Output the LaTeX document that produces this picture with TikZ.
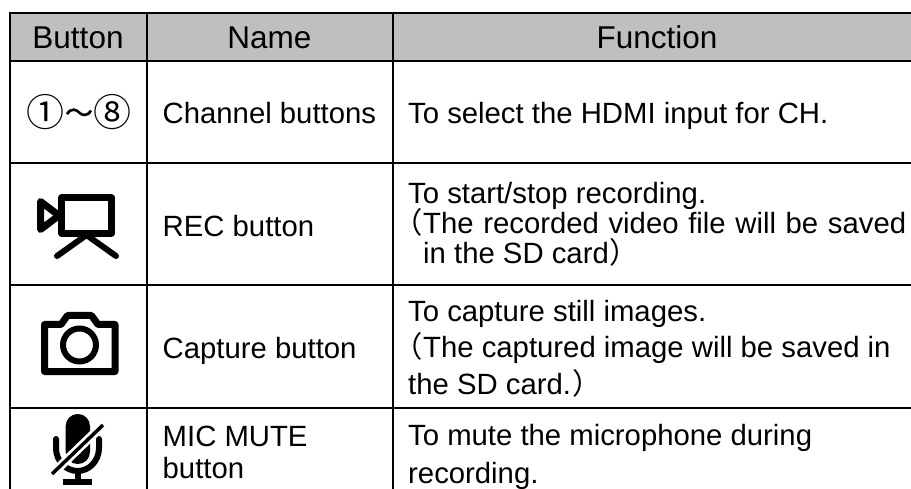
\documentclass[tikz,border=0pt]{standalone}
\usepackage{fontspec}
\setmainfont{Liberation Sans}
\newfontfamily\cjkfont{Noto Sans CJK JP}
\newfontfamily\cjkbold[FakeBold=1]{Noto Sans CJK JP}
\newcommand{\fwl}{\makebox[15pt][r]{\cjkfont （}}
\newcommand{\fwr}{\kern1pt{\cjkfont ）}}
\tikzset{
  grid line/.style={line width=2pt,black},
  hdr/.style={inner sep=0pt,anchor=base,font=\fontsize{31.5}{34}\selectfont},
  cell/.style={inner sep=0pt,anchor=base west,font=\fontsize{29.3}{32}\selectfont},
  icon/.style={line width=6.5pt,black,line join=round,line cap=round},
}
\begin{document}
\begin{tikzpicture}[x=1pt,y=-1pt]
\useasboundingbox (0,0) rectangle (911,489);
\fill[white] (0,0) rectangle (911,489);
\fill[black!25] (10.3,13) rectangle (911,61.5);
% grid
\draw[grid line] (911,13) -- (10.3,13) -- (10.3,489);
\draw[grid line] (146.5,13) -- (146.5,489);
\draw[grid line] (393,13) -- (393,489);
\draw[grid line] (10.3,61.5) -- (911,61.5);
\draw[grid line] (10.3,163) -- (911,163);
\draw[grid line] (10.3,284.7) -- (911,284.7);
\draw[grid line] (10.3,407.7) -- (911,407.7);
% header
\node[hdr] (hbutton) at (78,49) {Button};
\node[hdr] (hname) at (269.5,49) {Name};
\node[hdr] (hfunc) at (657,49) {Function};
% row 1
\node[inner sep=0pt,anchor=base] (r1a) at (79,126.5) {\cjkfont\fontsize{38}{40}\selectfont ①\kern1pt\raisebox{3.5pt}{\cjkbold\fontsize{28}{30}\selectfont ～}\kern1pt⑧};
\node[cell] (r1b) at (162.5,124) {Channel buttons};
\node[cell] (r1c) at (408,124) {To select the HDMI input for CH.};
% row 2
\node[cell] (r2b) at (162.5,237) {REC button};
\node[cell] (r2c1) at (408,203.5) {To start/stop recording.};
\node[cell] (r2c2) at (408,234) {\makebox[498pt][s]{\fwl The recorded video file will be saved}};
\node[cell] (r2c3) at (423,264) {in the SD card\fwr};
% row 3
\node[cell] (r3b) at (162.5,358) {Capture button};
\node[cell] (r3c1) at (408,321) {To capture still images.};
\node[cell] (r3c2) at (408,357) {\fwl The captured image will be saved in};
\node[cell] (r3c3) at (408,394) {the SD card.\fwr};
% row 4
\node[cell] (r4b1) at (162.5,446) {MIC MUTE};
\node[cell] (r4b2) at (162.5,478) {button};
\node[cell] (r4c1) at (408,445) {To mute the microphone during};
\node[cell] (r4c2) at (408,483) {recording.};
% camcorder icon
\draw[icon] (61.5,197.5) rectangle (111.5,233.5);
\draw[icon,line width=7pt] (40.5,201.5) -- (40.5,229.5) -- (59,215.5) -- cycle;
\draw[icon,line width=6pt] (57,256) -- (86.5,235) -- (116,256);
% camera icon
\draw[icon,line width=7pt] (44.5,324.5) -- (61,324.5) -- (67.5,315.5) -- (91.5,315.5) -- (98,324.5) -- (115,324.5) -- (115,371.5) -- (44.5,371.5) -- cycle;
\draw[icon,line width=6pt] (79.5,345) circle (16.5);
% muted microphone icon
\fill[black,rounded corners=12pt] (65.7,414) rectangle (90,464);
\draw[black,line width=6pt,line cap=round] (56,439) -- (56,448) arc[start angle=180,end angle=360,x radius=21.5,y radius=-23] -- (99,439);
\draw[black,line width=6pt] (77.5,471) -- (77.5,482);
\draw[black,line width=6pt] (63,482) -- (92,482);
\draw[white,line width=9pt] (46,480) -- (109,419);
\draw[black,line width=3.5pt] (52,474) -- (103,425);
\end{tikzpicture}
\end{document}
